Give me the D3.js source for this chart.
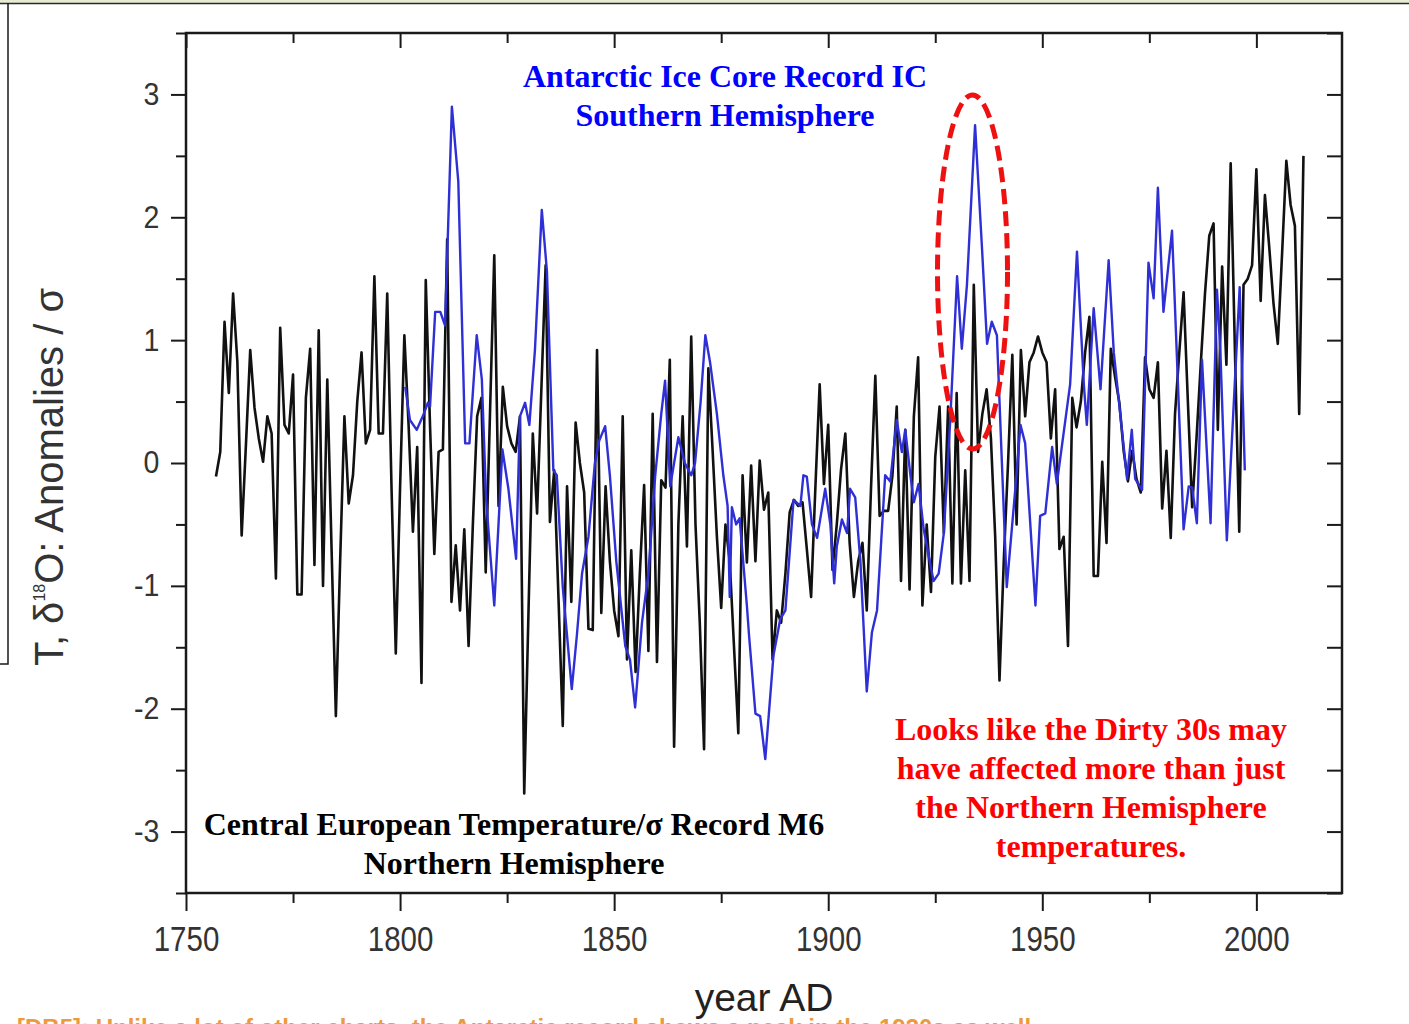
<!DOCTYPE html>
<html>
<head>
<meta charset="utf-8">
<script src="https://cdn.jsdelivr.net/npm/d3@7"></script>
<style>
  body { margin: 0; background: #fff; }
  svg { display: block; }
</style>
</head>
<body>
<svg id="chart" width="1409" height="1024"></svg>
<script>
// Central European Temperature / sigma (record M6), annual, starting 1757
const cetStartYear = 1757;
const cetValues = [
  -0.11, 0.09, 1.15, 0.57, 1.38, 0.82, -0.59, 0.15, 0.92, 0.45,      // 1757-1766
  0.2, 0.01, 0.38, 0.24, -0.94, 1.10, 0.31, 0.24, 0.72, -1.07,        // 1767-1776
  -1.07, 0.53, 0.93, -0.83, 1.08, -1.00, 0.68, -0.7, -2.06, -0.8,     // 1777-1786
  0.38, -0.33, -0.10, 0.5, 0.90, 0.16, 0.27, 1.52, 0.24, 0.24,        // 1787-1796
  1.38, -0.2, -1.55, -0.2, 1.04, 0.3, -0.56, 0.13, -1.79, 1.49,       // 1797-1806
  0.3, -0.74, 0.09, 0.11, 1.82, -1.13, -0.67, -1.20, -0.54, -1.49,    // 1807-1816
  -0.5, 0.38, 0.53, -0.89, 0.4, 1.69, -0.35, 0.62, 0.3, 0.16,         // 1817-1826
  0.09, 0.38, -2.69, -1.2, 0.24, -0.41, 0.6, 1.61, -0.48, -0.06,      // 1827-1836
  -1.1, -2.14, -0.19, -1.13, 0.33, 0.0, -0.24, -1.35, -1.36, 0.92,    // 1837-1846
  -1.22, -0.19, -0.8, -1.2, -1.41, 0.38, -1.60, -0.71, -1.70, -0.9,   // 1847-1856
  -0.18, -1.53, 0.40, -1.62, -0.14, -0.2, 0.84, -2.31, -0.5, 0.38,    // 1857-1866
  -0.68, 1.03, -0.5, -1.3, -2.33, 0.77, 0.1, -0.6, -1.18, -0.5,       // 1867-1876
  -0.8, -1.5, -2.20, -0.10, -0.81, -0.02, -0.80, 0.02, -0.38, -0.24,  // 1877-1886
  -1.60, -1.2, -1.3, -0.9, -0.4, -0.30, -0.35, -0.32, -0.7, -1.09,    // 1887-1896
  -0.2, 0.64, -0.17, 0.31, -0.87, -0.5, -0.05, 0.24, -0.65, -1.09,    // 1897-1906
  -0.8, -0.65, -1.2, -0.2, 0.71, -0.43, -0.39, -0.39, -0.1, 0.46,     // 1907-1916
  -0.96, 0.27, -1.03, 0.38, 0.86, -1.16, -0.5, -1.05, 0.05, 0.46,     // 1917-1926
  -0.57, 0.46, -0.98, 0.57, -0.98, -0.06, -0.96, 1.45, 0.09, 0.4,     // 1927-1936
  0.60, 0.2, -0.6, -1.77, -0.8, 0.0, 0.88, -0.5, 0.92, 0.38,          // 1937-1946
  0.82, 0.9, 1.03, 0.9, 0.82, 0.2, 0.60, -0.70, -0.6, -1.49,          // 1947-1956
  0.53, 0.29, 0.5, 0.9, 1.19, -0.92, -0.92, 0.01, -0.65, 0.93,        // 1957-1966
  0.7, 0.49, 0.1, -0.15, 0.1, -0.13, -0.24, 0.86, 0.6, 0.53,          // 1967-1976
  0.82, -0.37, 0.1, -0.61, 0.4, 0.9, 1.39, 0.5, -0.36, 0.19,          // 1977-1986
  0.8, 1.38, 1.85, 1.95, 0.27, 1.60, 0.80, 2.44, 0.9, -0.56,          // 1987-1996
  1.45, 1.5, 1.61, 2.39, 1.32, 2.18, 1.76, 1.3, 0.97, 1.7,            // 1997-2006
  2.46, 2.1, 1.93, 0.40, 2.50                                         // 2007-2011
];

// Antarctic ice core record IC (delta18O / sigma)
const icYears = [
  1801.2, 1802.3, 1803.9, 1805.3, 1806.5, 1807, 1808.2, 1809.4, 1810.5, 1812.1,
  1813.6, 1815.2, 1816.2, 1817.9, 1819.1, 1820.1, 1822, 1823.9, 1825.3, 1827.1,
  1828, 1829.2, 1830.2, 1831.5, 1833.1, 1834.3, 1835.8, 1836.6, 1838, 1840.1,
  1841.3, 1842.5, 1844, 1845.5, 1846.5, 1847.9, 1849, 1850.5, 1852.6, 1853.7,
  1854.9, 1856.5, 1858, 1859.6, 1861, 1861.9, 1863.1, 1865, 1866.5, 1868,
  1868.9, 1870.2, 1871.3, 1872.4, 1874, 1875.5, 1876.5, 1877, 1877.5, 1878.5,
  1879.3, 1881, 1881.5, 1883, 1884.1, 1885.3, 1887.2, 1888.8, 1890, 1891.9,
  1893.5, 1894.2, 1895, 1896.2, 1897.4, 1899.3, 1900.5, 1901.4, 1902, 1903.2,
  1904.4, 1905.1, 1906.3, 1907.5, 1909, 1910.2, 1911.4, 1913.3, 1914.5, 1916,
  1917.2, 1918, 1919.2, 1920, 1921.1, 1922.3, 1924.6, 1925.8, 1927, 1928.5,
  1930.1, 1931.2, 1932.4, 1934.3, 1935.9, 1937.1, 1938.2, 1939.4, 1941.7, 1943.7,
  1944.9, 1946, 1948.4, 1949.5, 1950.7, 1952.3, 1953.4, 1956.5, 1958.1, 1959.7,
  1960.4, 1962, 1963.6, 1965.5, 1966.7, 1968.2, 1969.8, 1970.9, 1971.7, 1973.3,
  1974.8, 1976, 1977, 1978.3, 1980.3, 1983, 1984.2, 1985, 1986.1, 1987.3,
  1989.3, 1990.8, 1991.6, 1993.1, 1996.1, 1997.3
];
const icValues = [
  0.62, 0.35, 0.27, 0.38, 0.49, 0.46, 1.23, 1.23, 1.12, 2.90,
  2.29, 0.16, 0.16, 1.04, 0.68, -0.3, -1.16, 0.11, -0.21, -0.78,
  0.38, 0.49, 0.31, 0.92, 2.06, 1.56, -0.06, -0.10, -1.01, -1.84,
  -1.4, -0.9, -0.6, 0.0, 0.18, 0.30, -0.1, -0.8, -1.49, -1.6,
  -1.99, -1.3, -0.9, -0.10, 0.4, 0.67, -0.19, 0.21, 0.0, -0.1,
  0.0, 0.5, 1.04, 0.82, 0.4, -0.1, -0.35, -1.09, -0.36, -0.5,
  -0.45, -1.16, -1.4, -2.04, -2.06, -2.41, -1.57, -1.27, -1.20, -0.30,
  -0.35, -0.10, -0.11, -0.50, -0.61, -0.21, -0.50, -0.98, -0.68, -0.46,
  -0.57, -0.21, -0.28, -0.79, -1.86, -1.38, -1.20, -0.10, -0.15, 0.35,
  0.09, 0.27, -0.10, -0.32, -0.17, -0.54, -0.96, -0.90, -0.57, 0.35,
  1.52, 0.93, 1.45, 2.75, 1.76, 0.97, 1.15, 1.04, -1.01, -0.21,
  0.31, 0.16, -1.16, -0.43, -0.41, 0.13, -0.17, 0.64, 1.72, 0.64,
  0.31, 1.26, 0.60, 1.65, 0.90, 0.4, -0.13, 0.27, -0.13, -0.22,
  1.63, 1.34, 2.24, 1.23, 1.89, -0.54, -0.19, -0.2, -0.49, 0.84,
  -0.49, 1.41, 0.9, -0.63, 1.43, -0.06
];

const xMajor = [1750, 1800, 1850, 1900, 1950, 2000];
const xMinor = [1775, 1825, 1875, 1925, 1975];
const yMajor = [-3, -2, -1, 0, 1, 2, 3];
const yMinor = [-3.5, -2.5, -1.5, -0.5, 0.5, 1.5, 2.5, 3.5];

const blueNote = ["Antarctic Ice Core Record IC", "Southern Hemisphere"];
const blackNote = ["Central European Temperature/\u03c3 Record M6", "Northern Hemisphere"];
const redNote = ["Looks like the Dirty 30s may", "have affected more than just",
                 "the Northern Hemisphere", "temperatures."];

const svg = d3.select('#chart');
const plotL = 186, plotR = 1342, plotT = 33, plotB = 893;

const x = d3.scaleLinear().domain([1750, 2020]).range([plotL, plotR]);
const y = d3.scaleLinear().domain([-3.5, 3.5]).range([plotB, plotT]);

// slide frame bits around the chart
svg.append('rect').attr('x', 0).attr('y', 0).attr('width', 1409).attr('height', 3).attr('fill', '#e8ecd2');
svg.append('line').attr('x1', 0).attr('x2', 1409).attr('y1', 3.5).attr('y2', 3.5)
  .attr('stroke', '#2a2a2a').attr('stroke-width', 1.5);
svg.append('path').attr('d', 'M8,3 V664 H0').attr('fill', 'none')
  .attr('stroke', '#1a1a1a').attr('stroke-width', 1.5);

const sans = '"Liberation Sans", Arial, sans-serif';
const serif = '"Liberation Serif", "Times New Roman", serif';

function styleAxis(g) {
  g.select('.domain').remove();
  g.selectAll('.tick line').attr('stroke', '#1a1a1a').attr('stroke-width', 2);
}

// bottom axis
svg.append('g').attr('transform', `translate(0,${plotB})`)
  .call(d3.axisBottom(x).tickValues(xMinor).tickSize(10).tickFormat(''))
  .call(styleAxis);
svg.append('g').attr('transform', `translate(0,${plotB})`)
  .call(d3.axisBottom(x).tickValues(xMajor).tickSize(18).tickPadding(14).tickFormat(d3.format('d')))
  .call(styleAxis)
  .call(g => g.selectAll('text')
    .attr('font-family', sans).attr('font-size', 36).attr('fill', '#333')
    .attr('transform', 'scale(0.82,1)'));

// top axis (inward)
svg.append('g').attr('transform', `translate(0,${plotT})`)
  .call(d3.axisTop(x).tickValues(xMinor).tickSize(-10).tickFormat(''))
  .call(styleAxis);
svg.append('g').attr('transform', `translate(0,${plotT})`)
  .call(d3.axisTop(x).tickValues(xMajor).tickSize(-15).tickFormat(''))
  .call(styleAxis);

// left axis
svg.append('g').attr('transform', `translate(${plotL},0)`)
  .call(d3.axisLeft(y).tickValues(yMinor).tickSize(10).tickFormat(''))
  .call(styleAxis);
svg.append('g').attr('transform', `translate(${plotL},0)`)
  .call(d3.axisLeft(y).tickValues(yMajor).tickSize(15).tickPadding(14).tickFormat(d => d < 0 ? '-' + Math.abs(d) : d))
  .call(styleAxis)
  .call(g => g.selectAll('text')
    .attr('font-family', sans).attr('font-size', 31).attr('fill', '#333')
    .attr('transform', 'scale(0.92,1)'));

// right axis (inward)
svg.append('g').attr('transform', `translate(${plotR},0)`)
  .call(d3.axisRight(y).tickValues(yMajor.concat(yMinor)).tickSize(-15).tickFormat(''))
  .call(styleAxis);

// frame
svg.append('rect').attr('x', plotL).attr('y', plotT)
  .attr('width', plotR - plotL).attr('height', plotB - plotT)
  .attr('fill', 'none').attr('stroke', '#1a1a1a').attr('stroke-width', 2.5);

// axis titles
svg.append('text').attr('x', 764).attr('y', 1011).attr('text-anchor', 'middle')
  .attr('font-family', sans).attr('font-size', 39).attr('fill', '#222')
  .text('year AD');

const yt = svg.append('text').attr('transform', 'translate(63,477) rotate(-90)')
  .attr('text-anchor', 'middle').attr('font-family', sans).attr('font-size', 40).attr('fill', '#333');
yt.append('tspan').text('T, \u03b4');
yt.append('tspan').attr('font-size', 16).attr('dy', -18).text('18');
yt.append('tspan').attr('dy', 18).text('O: Anomalies / \u03c3');

// data lines
const cet = cetValues.map((v, i) => [cetStartYear + i, v]);
const ic = icYears.map((yr, i) => [yr, icValues[i]]);
const line = d3.line().x(d => x(d[0])).y(d => y(d[1]));

svg.append('path').datum(cet).attr('d', line)
  .attr('fill', 'none').attr('stroke', '#111').attr('stroke-width', 2.6).attr('stroke-linejoin', 'round');
svg.append('path').datum(ic).attr('d', line)
  .attr('fill', 'none').attr('stroke', '#2f2fd6').attr('stroke-width', 2.4).attr('stroke-linejoin', 'round');

// dashed ellipse round the 1930s
svg.append('ellipse').attr('cx', x(1933.7)).attr('cy', 272).attr('rx', 35).attr('ry', 177)
  .attr('fill', 'none').attr('stroke', '#ee1111').attr('stroke-width', 5)
  .attr('stroke-dasharray', '15 7');

// notes
function note(lines, cx, y0, step, color) {
  svg.append('g').selectAll('text').data(lines).join('text')
    .attr('x', cx).attr('y', (d, i) => y0 + i * step)
    .attr('text-anchor', 'middle').attr('font-family', serif)
    .attr('font-weight', 'bold').attr('font-size', 32).attr('fill', color)
    .text(d => d);
}
note(blueNote, 725, 87, 39, '#0000ff');
note(blackNote, 514, 835, 39, '#000');
note(redNote, 1091, 740, 39, '#ff0000');

// caption of the slide, cut off by the bottom edge as in the source
svg.append('text').attr('x', 17).attr('y', 1036)
  .attr('font-family', sans).attr('font-weight', 'bold').attr('font-size', 24).attr('fill', '#ec9a3c')
  .text('[DB5]: Unlike a lot of other charts, the Antarctic record shows a peak in the 1930s as well');
</script>
</body>
</html>
